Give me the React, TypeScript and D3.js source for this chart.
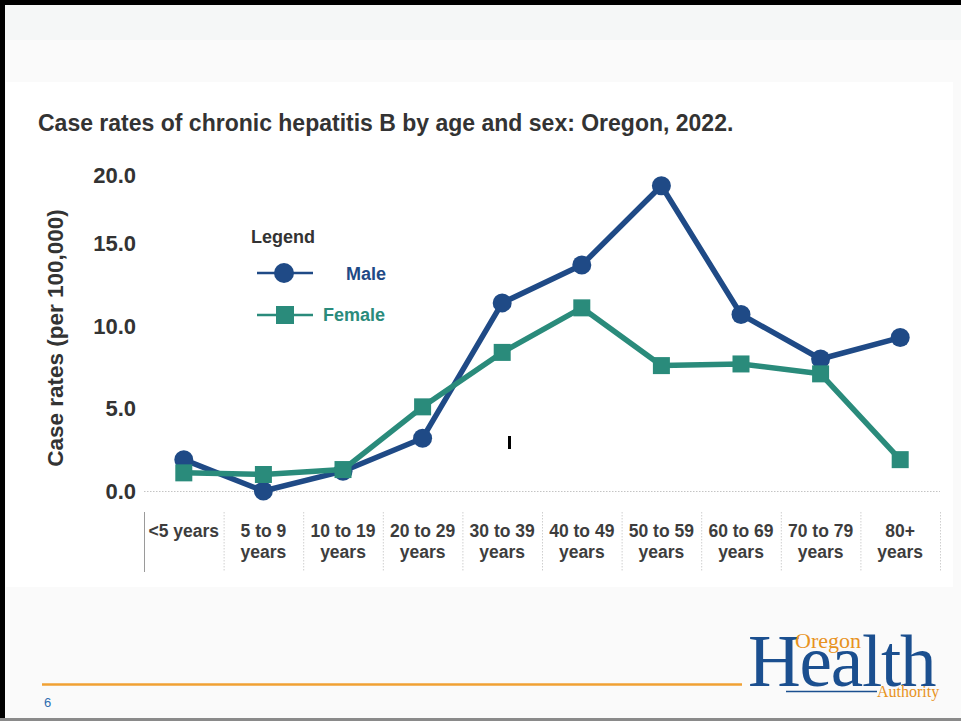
import React from "react";
import * as d3 from "d3";

// Age groups (x categories), each label split into display lines
const ageGroups = [
  "<5 years",
  "5 to 9 years",
  "10 to 19 years",
  "20 to 29 years",
  "30 to 39 years",
  "40 to 49 years",
  "50 to 59 years",
  "60 to 69 years",
  "70 to 79 years",
  "80+ years",
];
const ageLabelLines = [
  ["<5 years"],
  ["5 to 9", "years"],
  ["10 to 19", "years"],
  ["20 to 29", "years"],
  ["30 to 39", "years"],
  ["40 to 49", "years"],
  ["50 to 59", "years"],
  ["60 to 69", "years"],
  ["70 to 79", "years"],
  ["80+", "years"],
];

// Case rates per 100,000
const maleRates = [1.9, 0.0, 1.2, 3.2, 11.4, 13.7, 18.5, 10.7, 8.0, 9.3];
const femaleRates = [1.1, 1.0, 1.3, 5.1, 8.4, 11.1, 7.6, 7.7, 7.1, 1.9];

const yTicks = [0, 5, 10, 15, 20];

const MALE = "#1f4a86";
const FEMALE = "#2a8b7b";
const TEXT = "#333333";
const FONT = "'Liberation Sans', Arial, sans-serif";
const SERIF = "'Liberation Serif', 'Times New Roman', serif";

export default function App() {
  const W = 961;
  const H = 721;

  const x = d3.scaleBand<string>().domain(ageGroups).range([144, 940]).padding(0);
  const y = d3.scaleLinear().domain([0, 20]).range([491, 161]);
  const cx = (i: number) => (x(ageGroups[i]) as number) + x.bandwidth() / 2;

  const line = d3
    .line<number>()
    .x((_, i) => cx(i))
    .y((d) => y(d));

  const boundaries = [...ageGroups.map((g) => x(g) as number), 940];

  return (
    <svg
      width={W}
      height={H}
      style={{ position: "absolute", left: 0, top: 0, display: "block" }}
      fontFamily={FONT}
    >
      {/* slide background */}
      <rect x={0} y={0} width={W} height={H} fill="#fafafa" />
      <rect x={0} y={0} width={W} height={40} fill="#f5f7f7" />
      <rect x={6} y={82} width={947} height={505} fill="#ffffff" />

      {/* slide frame */}
      <rect x={0} y={0} width={W} height={5} fill="#000" />
      <rect x={0} y={0} width={5} height={H} fill="#000" />
      <rect x={0} y={718} width={W} height={3} fill="#8a8a8a" />

      {/* title */}
      <text x={38} y={131} fontSize={23} fontWeight="bold" fill={TEXT}>
        Case rates of chronic hepatitis B by age and sex: Oregon, 2022.
      </text>

      {/* y axis title */}
      <text
        transform="translate(63,338) rotate(-90)"
        textAnchor="middle"
        fontSize={22.5}
        fontWeight="bold"
        fill={TEXT}
      >
        Case rates (per 100,000)
      </text>

      {/* y tick labels; the top label is kept clear of the plot edge */}
      {yTicks.map((t) => (
        <text
          key={t}
          x={136}
          y={Math.max(y(t), 175)}
          dy="0.36em"
          textAnchor="end"
          fontSize={22}
          fontWeight="bold"
          fill={TEXT}
        >
          {d3.format(".1f")(t)}
        </text>
      ))}

      {/* zero line */}
      <line
        x1={144}
        x2={940}
        y1={y(0) + 0.5}
        y2={y(0) + 0.5}
        stroke="#c4c4c4"
        strokeWidth={1}
        strokeDasharray="1.5 1.5"
      />

      {/* category separators */}
      {boundaries.map((bx, i) => (
        <line
          key={i}
          x1={bx + 0.5}
          x2={bx + 0.5}
          y1={512}
          y2={572}
          stroke={i === 0 ? "#9a9a9a" : "#cfcfcf"}
          strokeWidth={1}
          strokeDasharray={i === 0 ? undefined : "1.5 1.5"}
        />
      ))}

      {/* category labels */}
      {ageLabelLines.map((lines, i) => (
        <text
          key={i}
          x={cx(i)}
          textAnchor="middle"
          fontSize={17.5}
          fontWeight="bold"
          fill="#3d3d3d"
        >
          {lines.map((l, j) => (
            <tspan key={j} x={cx(i)} y={537 + j * 20.5}>
              {l}
            </tspan>
          ))}
        </text>
      ))}

      {/* series lines */}
      <path d={line(maleRates) ?? ""} fill="none" stroke={MALE} strokeWidth={5.5} strokeLinejoin="round" />
      {maleRates.map((v, i) => (
        <circle key={i} cx={cx(i)} cy={y(v)} r={9.5} fill={MALE} />
      ))}
      <path d={line(femaleRates) ?? ""} fill="none" stroke={FEMALE} strokeWidth={5.5} strokeLinejoin="round" />
      {femaleRates.map((v, i) => (
        <rect key={i} x={cx(i) - 8.5} y={y(v) - 8.5} width={17} height={17} fill={FEMALE} />
      ))}

      {/* stray cursor mark */}
      <rect x={508} y={436} width={3} height={13} fill="#000" />

      {/* legend */}
      <text x={251} y={243} fontSize={18} fontWeight="bold" fill={TEXT}>
        Legend
      </text>
      <line x1={257} x2={313} y1={273} y2={273} stroke={MALE} strokeWidth={2.5} />
      <circle cx={284} cy={273} r={10} fill={MALE} />
      <text x={346} y={280} fontSize={18} fontWeight="bold" fill={MALE}>
        Male
      </text>
      <line x1={257} x2={313} y1={315} y2={315} stroke={FEMALE} strokeWidth={2.5} />
      <rect x={276} y={306} width={18} height={18} fill={FEMALE} />
      <text x={323} y={321} fontSize={18} fontWeight="bold" fill={FEMALE}>
        Female
      </text>

      {/* footer */}
      <line x1={42} x2={742} y1={684.5} y2={684.5} stroke="#f0a133" strokeWidth={2.5} />
      <text x={44} y={707} fontSize={13} fill="#2e6db0">
        6
      </text>

      {/* agency wordmark */}
      <g fontFamily={SERIF}>
        <text x={748} y={686} fontSize={73} fill="#1b4f8f" letterSpacing={-1.2}>
          Health
        </text>
        <line x1={786} x2={877} y1={691.5} y2={691.5} stroke="#1b4f8f" strokeWidth={1.5} />
        <text x={795} y={648} fontSize={22} fill="#e8931e">
          Oregon
        </text>
        <text x={877} y={697} fontSize={16} fill="#e8931e">
          Authority
        </text>
      </g>
    </svg>
  );
}
